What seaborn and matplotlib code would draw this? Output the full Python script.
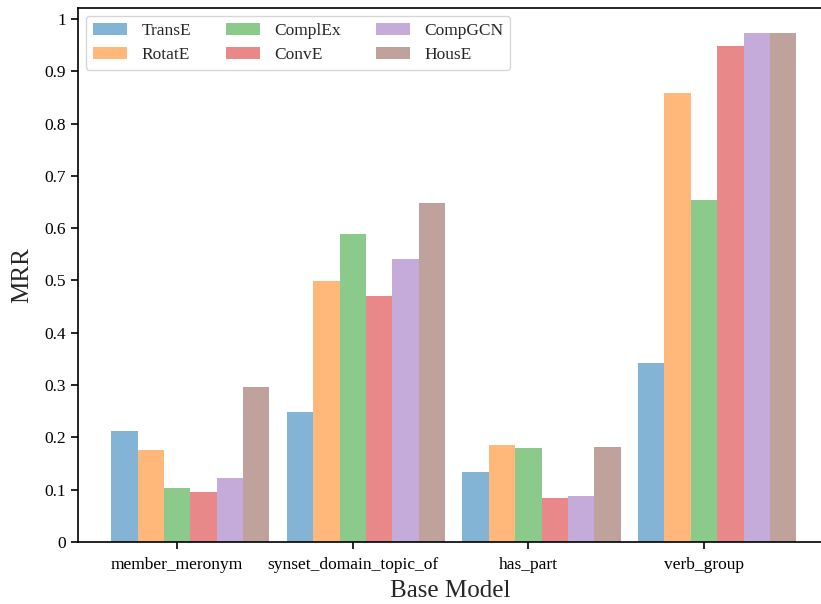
import matplotlib
matplotlib.use("Agg")
import matplotlib.pyplot as plt
from matplotlib.ticker import FuncFormatter
import numpy as np
import pandas as pd
import seaborn as sns

relations = ["member_meronym", "synset_domain_topic_of", "has_part", "verb_group"]
models = ["TransE", "RotatE", "ComplEx", "ConvE", "CompGCN", "HousE"]
transe = [0.212, 0.249, 0.134, 0.342]
rotate = [0.176, 0.499, 0.185, 0.859]
complex_ = [0.103, 0.589, 0.180, 0.654]
conve = [0.096, 0.470, 0.084, 0.948]
compgcn = [0.122, 0.541, 0.088, 0.973]
house = [0.296, 0.648, 0.182, 0.973]
series = [transe, rotate, complex_, conve, compgcn, house]

rows = []
for m, vals in zip(models, series):
    for r, v in zip(relations, vals):
        rows.append({"relation": r, "model": m, "MRR": v})
df = pd.DataFrame(rows)

sns.set_style("ticks")
plt.rcParams["font.family"] = ["Liberation Serif", "DejaVu Serif"]
plt.rcParams["axes.linewidth"] = 1.2

fig = plt.figure(figsize=(8.21, 6.04), dpi=100)
ax = fig.add_axes([0.095, 0.1026, 0.908, 0.8842])

palette = sns.color_palette("tab10", 6)
sns.barplot(data=df, x="relation", y="MRR", hue="model", order=relations,
            hue_order=models, palette=palette, saturation=1, width=0.9,
            errorbar=None, alpha=0.55, linewidth=0, ax=ax)

n = len(models)
bw = 0.9 / n
offset = -0.45 + 2.5 * bw
ax.set_xticks(np.arange(len(relations)) + offset)
ax.set_xticklabels(relations, fontsize=12.5)
ax.set_xlim(-0.075 - 0.564, 3.605)
ax.set_ylim(0, 1.021)
ax.set_yticks(np.arange(0, 1.01, 0.1))
ax.yaxis.set_major_formatter(FuncFormatter(lambda v, p: "%g" % round(v, 1)))
ax.tick_params(axis="both", labelsize=12.5, length=5, width=1.2, colors="black")
ax.tick_params(axis="x", pad=6)
ax.set_xlabel("Base Model", fontsize=18, labelpad=5)
ax.set_ylabel("MRR", fontsize=18, labelpad=8)
for s in ax.spines.values():
    s.set_color("black")

ax.legend(ncol=3, loc="upper left", fontsize=12.5, frameon=True,
          handlelength=2.0, columnspacing=2.0, labelspacing=0.45,
          borderaxespad=0.45)

fig.savefig("out.png", dpi=100)
